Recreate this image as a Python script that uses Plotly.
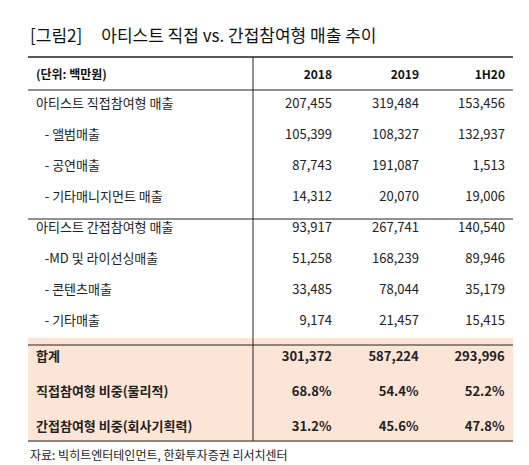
import plotly.graph_objects as go

labels = ["아티스트 직접참여형 매출", "  - 앨범매출", "  - 공연매출", "  - 기타매니지먼트 매출",
          "아티스트 간접참여형 매출", "  -MD 및 라이선싱매출", "  - 콘텐츠매출", "  - 기타매출",
          "합계", "직접참여형 비중(물리적)", "간접참여형 비중(회사기획력)"]
years = ["2018", "2019", "1H20"]
v2018 = [207455, 105399, 87743, 14312, 93917, 51258, 33485, 9174, 301372, 68.8, 31.2]
v2019 = [319484, 108327, 191087, 20070, 267741, 168239, 78044, 21457, 587224, 54.4, 45.6]
v1h20 = [153456, 132937, 1513, 19006, 140540, 89946, 35179, 15415, 293996, 52.2, 47.8]

def fmt(vals):
    out = []
    for i, v in enumerate(vals):
        s = f"{v:.1f}%" if i >= 9 else f"{v:,}"
        out.append(f"<b>{s}</b>" if i >= 8 else s)
    return out

lab = [("   " + l.strip() if l.startswith("  ") else l) for l in labels]
lab = [f"<b>{l}</b>" if i >= 8 else l for i, l in enumerate(lab)]
peach = "#FCE4D6"
fills = ["white"] * 8 + [peach] * 3

fig = go.Figure(go.Table(
    columnwidth=[225, 87, 87, 86],
    header=dict(values=["<b>(단위: 백만원)</b>"] + [f"<b>{y}</b>" for y in years],
                align=["left", "right", "right", "right"], height=32,
                fill_color="white", line_width=0,
                font=dict(family="Noto Sans CJK KR", size=12, color="#111")),
    cells=dict(values=[lab, fmt(v2018), fmt(v2019), fmt(v1h20)],
               align=["left", "right", "right", "right"], height=31,
               fill_color=[fills] * 4, line_width=0,
               font=dict(family="Noto Sans CJK KR", size=13, color="#222")),
))

T, B, L, R = 49, 31, 20, 24
W, H = 529, 465
def y(py): return (H - B - py) / (H - T - B)
def x(px): return (px - L) / (W - L - R)
shapes = []
for py, w in [(49, 1.5), (82, 1), (211, 1), (337, 1), (433, 1.2)]:
    shapes.append(dict(type="line", xref="paper", yref="paper", x0=x(20), x1=x(505),
                       y0=y(py), y1=y(py), line=dict(color="#222", width=w)))
shapes.append(dict(type="line", xref="paper", yref="paper", x0=x(245), x1=x(245),
                   y0=y(49), y1=y(433), line=dict(color="#222", width=1)))
fig.update_layout(
    width=W, height=H, margin=dict(l=L, r=R, t=T, b=B),
    paper_bgcolor="white", shapes=shapes,
    annotations=[
        dict(text="[그림2]     아티스트 직접 vs. 간접참여형 매출 추이", x=x(20), y=y(27),
             xref="paper", yref="paper", xanchor="left", yanchor="middle", showarrow=False,
             font=dict(family="Noto Sans CJK KR", size=17, color="#111")),
        dict(text="자료: 빅히트엔터테인먼트, 한화투자증권 리서치센터", x=x(20), y=y(446),
             xref="paper", yref="paper", xanchor="left", yanchor="middle", showarrow=False,
             font=dict(family="Noto Sans CJK KR", size=12, color="#222")),
    ],
)
fig.write_html("out.html")
